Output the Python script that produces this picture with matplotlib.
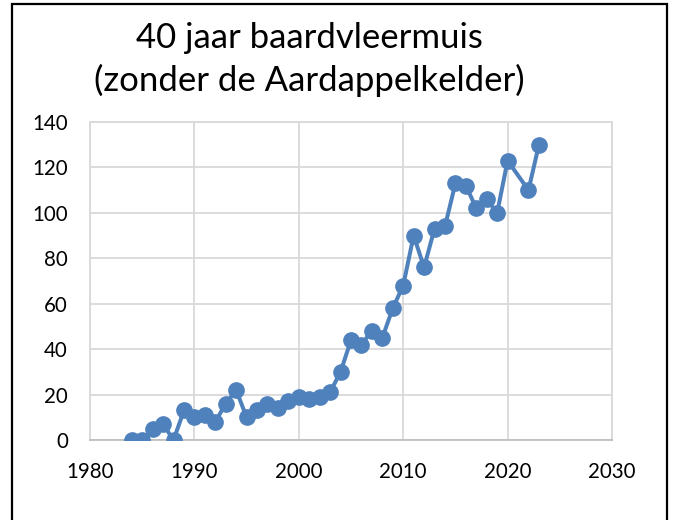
import matplotlib
matplotlib.use("Agg")
import matplotlib.pyplot as plt
from matplotlib.patches import Rectangle

years = [1984, 1985, 1986, 1987, 1988, 1989, 1990, 1991, 1992, 1993, 1994, 1995,
         1996, 1997, 1998, 1999, 2000, 2001, 2002, 2003, 2004, 2005, 2006, 2007,
         2008, 2009, 2010, 2011, 2012, 2013, 2014, 2015, 2016, 2017, 2018, 2019,
         2020, 2022, 2023]
counts = [0, 0, 5, 7, 0, 13, 10, 11, 8, 16, 22, 10,
          13, 16, 14, 17, 19, 18, 19, 21, 30, 44, 42, 48,
          45, 58, 68, 90, 76, 93, 94, 113, 112, 102, 106, 100,
          123, 110, 130]
title_lines = ["40 jaar baardvleermuis", "(zonder de Aardappelkelder)"]
xticks = [1980, 1990, 2000, 2010, 2020, 2030]
yticks = [0, 20, 40, 60, 80, 100, 120, 140]

plt.rcParams['font.family'] = ['Lato', 'DejaVu Sans']

W, H = 673, 520
fig = plt.figure(figsize=(W / 100, H / 100), dpi=100)
fig.patch.set_facecolor('white')

ax = fig.add_axes([90 / W, 1 - 440 / H, (612 - 90) / W, (440 - 122) / H])
ax.plot(years, counts, color='#4F81BD', lw=2.9, marker='o', ms=11,
        markerfacecolor='#4F81BD', markeredgecolor='#4F81BD', zorder=3)

ax.set_xlim(1980, 2030)
ax.set_ylim(0, 140)
ax.set_xticks(xticks)
ax.set_yticks(yticks)
ax.set_xticklabels([str(v) for v in xticks])
ax.set_yticklabels([str(v) for v in yticks])
ax.grid(True, color='#D9D9D9', lw=1.3)
ax.set_axisbelow(True)
for s in ax.spines.values():
    s.set_color('#D9D9D9')
    s.set_linewidth(1.3)
ax.spines['bottom'].set_color('#BFBFBF')
ax.tick_params(length=0, labelsize=14.8, colors='black')
ax.tick_params(axis='y', pad=16)
ax.tick_params(axis='x', pad=16)

fig.text(309 / W, 1 - 38 / H, title_lines[0], ha='center', va='center', fontsize=25)
fig.text(309 / W, 1 - 80 / H, title_lines[1], ha='center', va='center', fontsize=25)

fig.add_artist(Rectangle((12 / W, -0.05), (667 - 12) / W, 1.05 - 4 / H,
                         transform=fig.transFigure, fill=False,
                         edgecolor='black', lw=1.6))

fig.savefig('out.png', dpi=100)
